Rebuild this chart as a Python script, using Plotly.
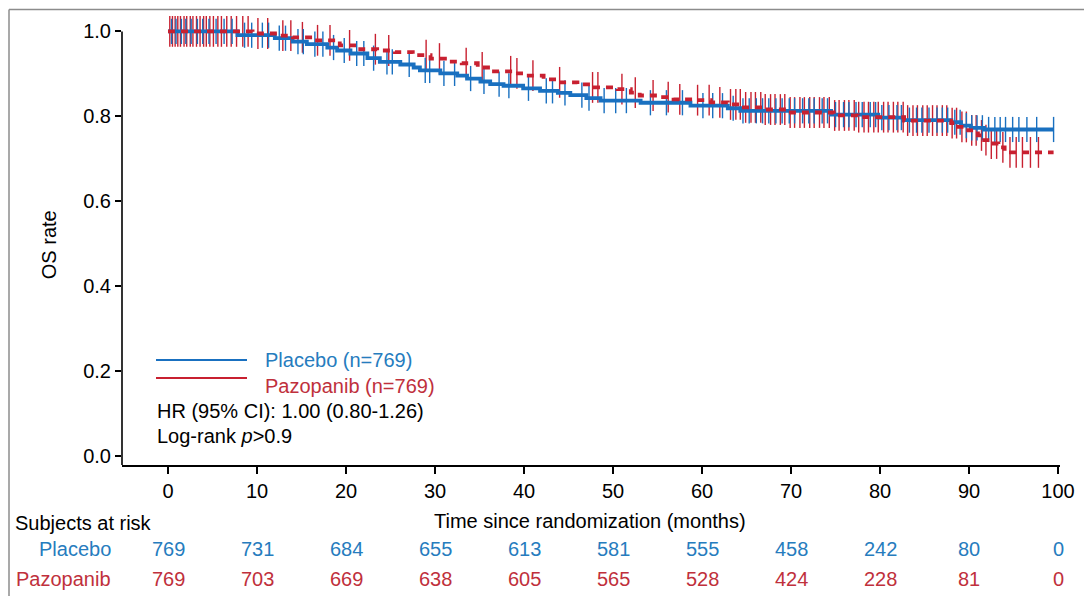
import numpy as np
import plotly.graph_objects as go

# ---------------- data ----------------
placebo_t = [0, 7.8, 12.0, 14.0, 15.6, 17.9, 19.0, 20.5, 22.4, 23.8, 26.1, 27.6, 28.3, 30.6, 32.5, 33.6,
             35.1, 36.2, 37.7, 39.9, 41.8, 43.8, 45.2, 47.0, 48.6, 53.1, 58.7, 62.9, 64.3, 74.5, 79.8,
             82.7, 88.0, 89.1, 90.2, 91.7, 99.5]
placebo_s = [1.0, 0.991, 0.984, 0.976, 0.970, 0.962, 0.955, 0.948, 0.937, 0.928, 0.922, 0.915, 0.908, 0.901,
             0.896, 0.889, 0.882, 0.876, 0.872, 0.866, 0.860, 0.855, 0.850, 0.843, 0.837, 0.832, 0.825,
             0.819, 0.813, 0.804, 0.797, 0.791, 0.786, 0.778, 0.773, 0.769, 0.769]

pazo_t = [0, 9.5, 12.5, 14.0, 16.3, 19.3, 21.6, 23.5, 25.5, 27.5, 29.5, 31.5, 33.0, 34.8, 36.4, 38.8, 40.2,
          42.2, 43.9, 46.0, 47.5, 50.5, 52.0, 53.0, 55.3, 56.8, 59.0, 61.0, 62.9, 64.7, 66.9, 69.6, 74.8,
          77.5, 82.7, 88.0, 88.8, 89.9, 91.0, 91.7, 92.5, 93.3, 94.0, 99.5]
pazo_s = [1.0, 0.995, 0.990, 0.986, 0.979, 0.967, 0.958, 0.955, 0.951, 0.944, 0.936, 0.929, 0.925, 0.915,
          0.906, 0.901, 0.896, 0.887, 0.880, 0.875, 0.868, 0.864, 0.856, 0.849, 0.845, 0.840, 0.838, 0.833,
          0.828, 0.821, 0.816, 0.809, 0.802, 0.798, 0.790, 0.784, 0.775, 0.767, 0.755, 0.744, 0.736, 0.727,
          0.715, 0.715]

placebo_cens = [0.4, 0.9, 1.5, 2.0, 2.6, 3.3, 3.9, 4.6, 5.4, 6.3, 7.2, 8.6, 9.4, 10.6, 11.3, 12.5, 13.2,
                14.6, 15.2, 16.5, 17.4, 18.6, 19.8, 21.2, 22.0, 23.1, 24.6, 25.2, 27.1, 28.9, 29.4, 31.0,
                32.2, 34.0, 35.5, 37.2, 38.3, 40.5, 42.5, 43.2, 44.6, 46.5, 47.3, 49.0, 50.3, 51.5, 54.2,
                56.0, 57.8, 60.1, 61.2, 62.3, 63.5, 64.6, 65.3, 66.1, 66.8, 67.5, 68.3, 69.0, 69.8, 70.4,
                71.3, 72.0, 72.6, 73.5, 74.1, 75.0, 75.9, 76.5, 77.3, 78.0, 78.9, 79.5, 80.2, 81.0, 81.9,
                82.4, 83.3, 84.1, 84.7, 85.5, 86.4, 87.0, 87.6, 88.4, 89.0, 89.7, 90.3, 90.9, 91.5, 92.2,
                92.9, 93.5, 94.1, 94.9, 95.6, 96.5, 97.6, 99.5]
pazo_cens = [0.2, 0.5, 0.8, 1.1, 1.4, 1.8, 2.1, 2.5, 2.8, 3.2, 3.6, 4.0, 4.3, 4.7, 5.1, 5.6, 6.0, 6.6, 7.1,
             7.7, 8.4, 9.0, 10.1, 11.2, 12.9, 13.8, 15.1, 16.8, 18.2, 20.4, 23.3, 24.8, 29.0, 30.5, 33.5,
             35.3, 38.5, 39.2, 41.0, 44.0, 47.7, 48.3, 51.0, 52.5, 54.5, 56.2, 57.5, 59.5, 60.8, 62.0,
             63.2, 63.8, 64.3, 64.9, 65.5, 66.0, 66.6, 67.1, 67.7, 68.2, 68.8, 69.3, 69.9, 70.4, 71.0,
             71.5, 72.1, 72.6, 73.2, 73.7, 74.3, 74.9, 75.4, 76.0, 76.5, 77.1, 77.6, 78.2, 78.7, 79.3,
             79.8, 80.4, 80.9, 81.5, 82.0, 82.6, 83.1, 83.7, 84.2, 84.8, 85.3, 85.9, 86.4, 87.0, 87.5,
             88.1, 88.6, 89.2, 89.7, 90.3, 90.8, 91.4, 91.9, 92.5, 93.1, 93.8, 94.6, 95.3, 96.0, 96.9,
             97.8]

risk_times = [0, 10, 20, 30, 40, 50, 60, 70, 80, 90, 100]
risk_placebo = [769, 731, 684, 655, 613, 581, 555, 458, 242, 80, 0]
risk_pazo = [769, 703, 669, 638, 605, 565, 528, 424, 228, 81, 0]

x_ticks = [0, 10, 20, 30, 40, 50, 60, 70, 80, 90, 100]
y_ticks = [0.0, 0.2, 0.4, 0.6, 0.8, 1.0]

# ---------------- style ----------------
BLUE = "rgb(25,112,192)"
RED = "rgb(200,32,48)"
BLUE_TXT = "rgb(38,124,190)"
RED_TXT = "rgb(192,48,60)"
FONT = "Liberation Sans, Arial, sans-serif"
FS = 20

OFF = 8  # page body margin
W, H = 1092 - OFF, 596 - OFF
# plot area in page pixels
L, R, T, B = 122, 1060, 27.6, 465
XMIN, XMAX = -5.17, 100.22
YMIN, YMAX = -0.0212, 1.008


def px_x(p):
    return (p - L) / (R - L)


def px_y(p):
    return (B - p) / (B - T)


def step_at(ts, ss, times):
    ts = np.asarray(ts)
    ss = np.asarray(ss)
    idx = np.searchsorted(ts, np.asarray(times), side="right") - 1
    return ss[np.clip(idx, 0, len(ss) - 1)]


fig = go.Figure()

fig.add_trace(go.Scatter(x=pazo_cens, y=step_at(pazo_t, pazo_s, pazo_cens), mode="markers",
                         marker=dict(symbol="line-ns", size=22, line=dict(color=RED, width=1.4)),
                         cliponaxis=False, showlegend=False, hoverinfo="skip"))
fig.add_trace(go.Scatter(x=placebo_cens, y=step_at(placebo_t, placebo_s, placebo_cens), mode="markers",
                         marker=dict(symbol="line-ns", size=18, line=dict(color=BLUE, width=1.4)),
                         cliponaxis=False, showlegend=False, hoverinfo="skip"))
fig.add_trace(go.Scatter(x=placebo_t, y=placebo_s, mode="lines", line=dict(color=BLUE, width=3.8, shape="hv"),
                         showlegend=False, hoverinfo="skip"))
fig.add_trace(go.Scatter(x=pazo_t, y=pazo_s, mode="lines",
                         line=dict(color=RED, width=3.8, shape="hv", dash="7px,6px"),
                         showlegend=False, hoverinfo="skip"))

shapes = [
    # y axis line
    dict(type="line", xref="paper", yref="y", x0=0, x1=0, y0=YMIN, y1=1.0, line=dict(color="black", width=1.6)),
    # image border (left + top)
    dict(type="line", xref="paper", yref="paper", x0=px_x(9), x1=px_x(9), y0=px_y(9), y1=px_y(620),
         line=dict(color="rgb(140,140,140)", width=1.5)),
    dict(type="line", xref="paper", yref="paper", x0=px_x(9), x1=px_x(1120), y0=px_y(9), y1=px_y(9),
         line=dict(color="rgb(140,140,140)", width=1.5)),
    # legend lines
    dict(type="line", xref="paper", yref="paper", x0=px_x(156), x1=px_x(247), y0=px_y(360), y1=px_y(360),
         line=dict(color=BLUE, width=2)),
    dict(type="line", xref="paper", yref="paper", x0=px_x(156), x1=px_x(247), y0=px_y(378), y1=px_y(378),
         line=dict(color=RED, width=2)),
]

ann = []


def add_text(text, x, y, color="black", xanchor="left", xref="paper", size=FS, angle=0):
    ann.append(dict(text=text, x=x, y=y, xref=xref, yref="paper", xanchor=xanchor, yanchor="middle",
                    showarrow=False, textangle=angle, font=dict(family=FONT, size=size, color=color)))


add_text("Placebo (n=769)", px_x(263), px_y(360), BLUE_TXT)
add_text("Pazopanib (n=769)", px_x(263), px_y(386), RED_TXT)
add_text("HR (95% CI): 1.00 (0.80-1.26)", px_x(155), px_y(411))
add_text("Log-rank <i>p</i>>0.9", px_x(155), px_y(436))
add_text("OS rate", px_x(49), px_y(245), xanchor="center", angle=-90)
add_text("Time since randomization (months)", 47.4, px_y(521), xanchor="center", xref="x")
add_text("Subjects at risk", px_x(13), px_y(523))
add_text("Placebo", px_x(113), px_y(549), BLUE_TXT, xanchor="right")
add_text("Pazopanib", px_x(113), px_y(579), RED_TXT, xanchor="right")
for t, n in zip(risk_times, risk_placebo):
    add_text(str(n), t, px_y(549), BLUE_TXT, xanchor="center", xref="x")
for t, n in zip(risk_times, risk_pazo):
    add_text(str(n), t, px_y(579), RED_TXT, xanchor="center", xref="x")

fig.update_layout(
    width=W, height=H,
    margin=dict(l=L - OFF, r=W - (R - OFF), t=T - OFF, b=H - (B - OFF), pad=0),
    paper_bgcolor="white", plot_bgcolor="white",
    font=dict(family=FONT, size=FS, color="black"),
    shapes=shapes, annotations=ann, showlegend=False,
    xaxis=dict(range=[XMIN, XMAX], tickvals=x_ticks, ticktext=[str(v) for v in x_ticks],
               showline=True, linecolor="black", linewidth=1.6, ticks="outside", ticklen=7, tickwidth=1.6,
               tickcolor="black", showgrid=False, zeroline=False, tickfont=dict(size=FS)),
    yaxis=dict(range=[YMIN, YMAX], tickvals=y_ticks, ticktext=[f"{v:.1f}" for v in y_ticks],
               showline=False, ticks="outside", ticklen=6, tickwidth=1.6, tickcolor="black",
               showgrid=False, zeroline=False, tickfont=dict(size=FS)),
)

fig.write_html("out.html")
